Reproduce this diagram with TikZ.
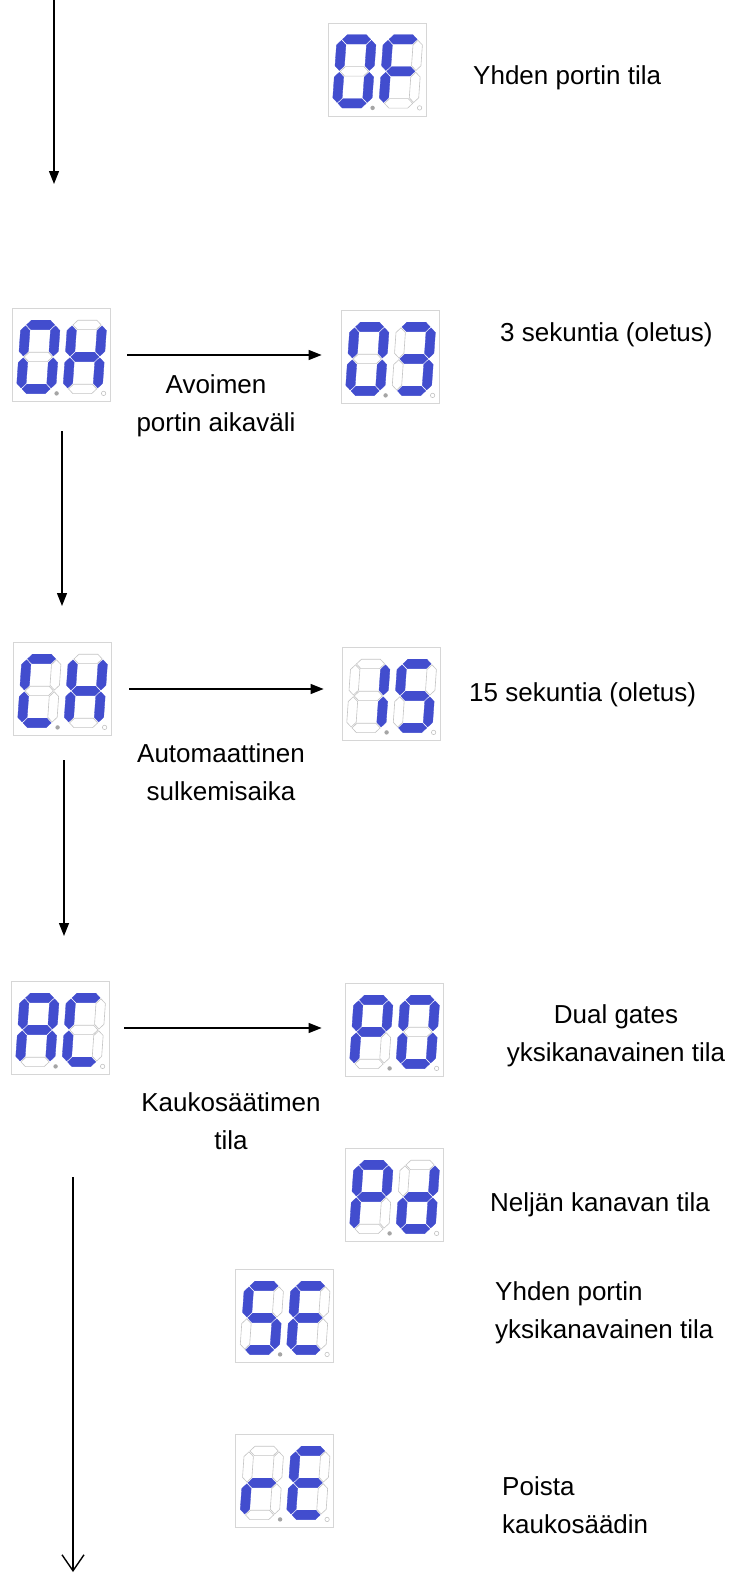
\documentclass[tikz,border=0pt]{standalone}
\usepackage{fontspec}
\setmainfont{Liberation Sans}
\usetikzlibrary{arrows.meta}
\definecolor{segblue}{RGB}{66,77,206}
\definecolor{segline}{RGB}{196,196,196}
\definecolor{boxgray}{RGB}{214,214,214}
\definecolor{dotgray}{RGB}{165,165,165}
\tikzset{
  sY/.style={fill=segblue, draw=segblue, line width=0.3pt, line join=miter},
  sN/.style={fill=white, draw=segline, line width=0.6pt},
  dispbox/.style={draw=boxgray, line width=0.8pt, minimum width=98pt, minimum height=93pt, inner sep=0pt, fill=white},
  arr/.style={line width=1.4pt, -{Triangle[length=13pt,width=10pt]}},
  arrv/.style={line width=1.4pt, -{Straight Barb[length=16pt,width=22pt,line width=1.4pt]}},
  lbl/.style={font=\fontsize{26}{38}\selectfont, inner sep=0pt, align=center},
}
\newcommand\sgW{30}
\newcommand\sgH{64}
\newcommand\sgD{4.7}
\newcommand\sgG{0.9}
\newcommand\hsg[2]{%
  \path[#2] ({\sgG},{#1}) -- ({\sgG+\sgD},{#1+\sgD}) -- ({\sgW-\sgG-\sgD},{#1+\sgD}) -- ({\sgW-\sgG},{#1}) -- ({\sgW-\sgG-\sgD},{#1-\sgD}) -- ({\sgG+\sgD},{#1-\sgD}) -- cycle;}
\newcommand\vsg[4]{%
  \path[#4] ({#1},{#2+\sgG}) -- ({#1+\sgD},{#2+\sgG+\sgD}) -- ({#1+\sgD},{#3-\sgG-\sgD}) -- ({#1},{#3-\sgG}) -- ({#1-\sgD},{#3-\sgG-\sgD}) -- ({#1-\sgD},{#2+\sgG+\sgD}) -- cycle;}
\newcommand\sgdigit[7]{%
  \hsg{\sgH}{#1}%
  \vsg{\sgW}{\sgH/2}{\sgH}{#2}%
  \vsg{\sgW}{0}{\sgH/2}{#3}%
  \hsg{0}{#4}%
  \vsg{0}{0}{\sgH/2}{#5}%
  \vsg{0}{\sgH/2}{\sgH}{#6}%
  \hsg{\sgH/2}{#7}%
}
\newcommand\gZero{\sgdigit{sY}{sY}{sY}{sY}{sY}{sY}{sN}}
\newcommand\gF{\sgdigit{sY}{sN}{sN}{sN}{sY}{sY}{sY}}
\newcommand\gH{\sgdigit{sN}{sY}{sY}{sN}{sY}{sY}{sY}}
\newcommand\gThree{\sgdigit{sY}{sY}{sY}{sY}{sN}{sN}{sY}}
\newcommand\gC{\sgdigit{sY}{sN}{sN}{sY}{sY}{sY}{sN}}
\newcommand\gOne{\sgdigit{sN}{sY}{sY}{sN}{sN}{sN}{sN}}
\newcommand\gFive{\sgdigit{sY}{sN}{sY}{sY}{sN}{sY}{sY}}
\newcommand\gA{\sgdigit{sY}{sY}{sY}{sN}{sY}{sY}{sY}}
\newcommand\gP{\sgdigit{sY}{sY}{sN}{sN}{sY}{sY}{sY}}
\newcommand\gd{\sgdigit{sN}{sY}{sY}{sY}{sY}{sN}{sY}}
\newcommand\gE{\sgdigit{sY}{sN}{sN}{sY}{sY}{sY}{sY}}
\newcommand\gr{\sgdigit{sN}{sN}{sN}{sN}{sY}{sN}{sY}}
\newcommand\sgdisp[4]{%
  \node[dispbox] (#1) at #2 {};
  \begin{scope}[shift={(#1.south west)}, xshift=9.5pt, yshift=13pt, xslant=0.07, yscale=-1] #3 \end{scope}
  \begin{scope}[shift={(#1.south west)}, xshift=56pt, yshift=13pt, xslant=0.07, yscale=-1] #4 \end{scope}
  \fill[dotgray] ([xshift=45pt,yshift=8.5pt]#1.south west) circle (2.2pt);
  \draw[segline, line width=0.6pt] ([xshift=92pt,yshift=8.5pt]#1.south west) circle (2.2pt);
}
\begin{document}
\begin{tikzpicture}[x=1pt, y=-1pt]
\useasboundingbox (0,0) rectangle (739,1576);
\sgdisp{of}{(377,69.5)}{\gZero}{\gF}
\sgdisp{oh}{(61,355)}{\gZero}{\gH}
\sgdisp{ot}{(390,357)}{\gZero}{\gThree}
\sgdisp{ch}{(62,689)}{\gC}{\gH}
\sgdisp{ff}{(391,694)}{\gOne}{\gFive}
\sgdisp{ac}{(60,1028)}{\gA}{\gC}
\sgdisp{pz}{(394,1030)}{\gP}{\gZero}
\sgdisp{pd}{(394,1195)}{\gP}{\gd}
\sgdisp{se}{(284.5,1316)}{\gFive}{\gE}
\sgdisp{re}{(284.5,1481)}{\gr}{\gE}

\node[lbl, anchor=west] (t1) at (473,78) {Yhden portin tila};
\node[lbl] (t2) at (216,406) {Avoimen\\portin aikaväli};
\node[lbl, anchor=west] (t3) at (500,335) {3 sekuntia (oletus)};
\node[lbl] (t4) at (221,772) {Automaattinen\\sulkemisaika};
\node[lbl, anchor=west] (t5) at (469,695) {15 sekuntia (oletus)};
\node[lbl] (t6) at (616,1036) {Dual gates\\yksikanavainen tila};
\node[lbl] (t7) at (231,1121) {Kaukosäätimen\\tila};
\node[lbl, anchor=west] (t8) at (490,1205) {Neljän kanavan tila};
\node[lbl, anchor=west, align=left] (t9) at (495,1313) {Yhden portin\\yksikanavainen tila};
\node[lbl, anchor=west, align=left] (t10) at (502,1505) {Poista\\kaukosäädin};

\coordinate (v0s) at (54,0);
\coordinate (v0e) at (54,184);
\coordinate (v1s) at (62,431);
\coordinate (v1e) at (62,606);
\coordinate (v2s) at (64,760);
\coordinate (v2e) at (64,936);
\coordinate (v3s) at (73,1177);
\coordinate (v3e) at (73,1572);
\draw[arr] (v0s) -- (v0e);
\draw[arr] (v1s) -- (v1e);
\draw[arr] (v2s) -- (v2e);
\draw[arrv] (v3s) -- (v3e);
\draw[arr, shorten <=17pt, shorten >=19pt] (oh.east) -- (oh.east -| ot.west);
\draw[arr, shorten <=18pt, shorten >=18pt] (ch.east) -- (ch.east -| ff.west);
\draw[arr, shorten <=15pt, shorten >=23pt] (ac.east) -- (ac.east -| pz.west);
\end{tikzpicture}
\end{document}
